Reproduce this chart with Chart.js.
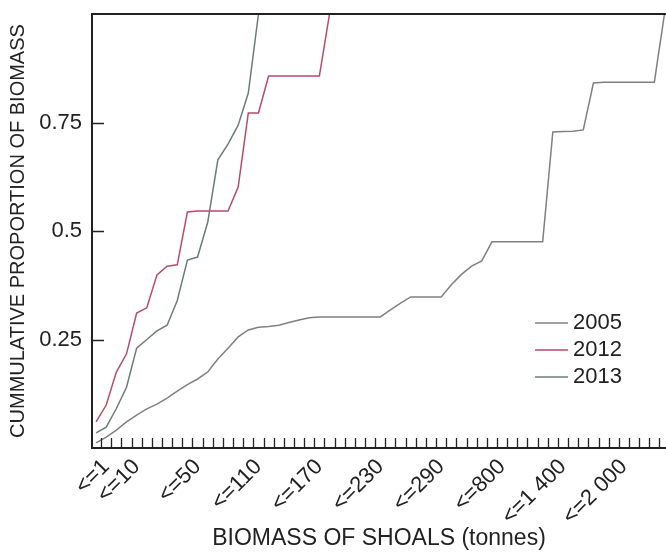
<!DOCTYPE html>
<html>
<head>
<meta charset="utf-8">
<title>Cumulative proportion of biomass by shoal size</title>
<script src="https://cdn.jsdelivr.net/npm/chart.js@4.4.1/dist/chart.umd.min.js"></script>
<style>
  html, body { margin: 0; padding: 0; background: #fff; }
</style>
</head>
<body>
<canvas id="cumChart" width="666" height="552"></canvas>
<script>
// ---------- Data ----------
// one entry per shoal-size class; only some classes carry a printed label
const sizeClassLabels = [
  '', '<=1', '', '', '<=10', '', '', '', '', '',
  '<=50', '', '', '', '', '', '<=110', '', '', '',
  '', '', '<=170', '', '', '', '', '', '<=230', '',
  '', '', '', '', '<=290', '', '', '', '', '',
  '<=800', '', '', '', '', '', '<=1 400', '', '', '',
  '', '', '<=2 000', '', '', '', '',
];

const yTickValues = [0.25, 0.5, 0.75];
const yTickText   = ['0.25', '0.5', '0.75'];

const cum2005 = [
  0.012, 0.025, 0.041, 0.060, 0.076, 0.090, 0.101, 0.115, 0.131, 0.146,
  0.159, 0.175, 0.205, 0.230, 0.256, 0.272, 0.278, 0.280, 0.283, 0.289,
  0.295, 0.300, 0.302, 0.302, 0.302, 0.302, 0.302, 0.302, 0.302, 0.318,
  0.334, 0.348, 0.348, 0.348, 0.348, 0.376, 0.400, 0.419, 0.431, 0.475,
  0.475, 0.475, 0.475, 0.475, 0.475, 0.728, 0.729, 0.730, 0.733, 0.841,
  0.843, 0.843, 0.843, 0.843, 0.843, 0.843, 1.000,
];

const cum2012 = [
  0.060, 0.099, 0.175, 0.217, 0.311, 0.323, 0.399, 0.419, 0.422, 0.544,
  0.546, 0.546, 0.546, 0.546, 0.601, 0.772, 0.772, 0.857, 0.857, 0.857,
  0.857, 0.857, 0.857, 1.000, 1.000, 1.000, 1.000, 1.000, 1.000, 1.000,
  1.000, 1.000, 1.000, 1.000, 1.000, 1.000, 1.000, 1.000, 1.000, 1.000,
  1.000, 1.000, 1.000, 1.000, 1.000, 1.000, 1.000, 1.000, 1.000, 1.000,
  1.000, 1.000, 1.000, 1.000, 1.000, 1.000, 1.000,
];

const cum2013 = [
  0.035, 0.048, 0.091, 0.140, 0.230, 0.250, 0.270, 0.283, 0.340, 0.433,
  0.440, 0.520, 0.664, 0.700, 0.744, 0.818, 1.000, 1.000, 1.000, 1.000,
  1.000, 1.000, 1.000, 1.000, 1.000, 1.000, 1.000, 1.000, 1.000, 1.000,
  1.000, 1.000, 1.000, 1.000, 1.000, 1.000, 1.000, 1.000, 1.000, 1.000,
  1.000, 1.000, 1.000, 1.000, 1.000, 1.000, 1.000, 1.000, 1.000, 1.000,
  1.000, 1.000, 1.000, 1.000, 1.000, 1.000, 1.000,
];

const FONT = '"Liberation Sans", Arial, sans-serif';
const INK = '#222';

// class index -> x, cumulative proportion -> y
const toPoints = (vals) => vals.map((v, i) => ({ x: i, y: v }));

// ---------- Plugin: inward tick marks + top edge of the box ----------
const frameTicks = {
  id: 'frameTicks',
  afterDatasetsDraw(chart) {
    const { ctx, chartArea: a, scales: { x, y } } = chart;
    ctx.save();
    ctx.strokeStyle = INK;
    ctx.lineWidth = 1.3;
    ctx.beginPath();
    // x ticks fall between neighbouring classes
    for (let i = 0; i < sizeClassLabels.length - 1; i++) {
      const px = Math.round(x.getPixelForValue(i + 0.5)) + 0.5;
      ctx.moveTo(px, a.bottom);
      ctx.lineTo(px, a.bottom - 10);
    }
    yTickValues.forEach((v) => {
      const py = Math.round(y.getPixelForValue(v)) + 0.5;
      ctx.moveTo(a.left, py);
      ctx.lineTo(a.left + 12, py);
    });
    ctx.stroke();

    ctx.lineWidth = 2;
    ctx.beginPath();
    ctx.moveTo(a.left, a.top);
    ctx.lineTo(a.right, a.top);
    ctx.stroke();
    ctx.restore();
  },
};

// ---------- Plugin: legend in the lower right of the plot ----------
const cornerLegend = {
  id: 'cornerLegend',
  afterDraw(chart) {
    const { ctx, chartArea: a } = chart;
    const items = [0, 1, 2].map((i) => chart.data.datasets.find((d) => d.legendRow === i));
    ctx.save();
    ctx.font = '22px ' + FONT;
    ctx.textBaseline = 'middle';
    ctx.fillStyle = INK;
    items.forEach((ds, i) => {
      const yy = a.top + 309 + i * 27;
      ctx.strokeStyle = ds.borderColor;
      ctx.lineWidth = ds.borderWidth;
      ctx.beginPath();
      ctx.moveTo(a.right - 131, yy);
      ctx.lineTo(a.right - 98, yy);
      ctx.stroke();
      ctx.fillText(ds.label, a.right - 93, yy);
    });
    ctx.restore();
  },
};

// ---------- Chart ----------
const canvas = document.getElementById('cumChart');

new Chart(canvas, {
  type: 'line',
  data: {
    datasets: [
      {
        label: '2012',
        legendRow: 1,
        data: toPoints(cum2012),
        borderColor: '#b84c66',
        borderWidth: 1.5,
        pointRadius: 0,
        tension: 0,
        order: 0,
      },
      {
        label: '2013',
        legendRow: 2,
        data: toPoints(cum2013),
        borderColor: '#6b7d79',
        borderWidth: 1.5,
        pointRadius: 0,
        tension: 0,
        order: 1,
      },
      {
        label: '2005',
        legendRow: 0,
        data: toPoints(cum2005),
        borderColor: '#808080',
        borderWidth: 1.5,
        pointRadius: 0,
        tension: 0,
        order: 2,
      },
    ],
  },
  options: {
    responsive: false,
    animation: false,
    layout: { padding: { top: 14, left: 0, right: 0, bottom: 0 } },
    plugins: {
      legend: { display: false },
      tooltip: { enabled: false },
    },
    scales: {
      x: {
        type: 'linear',
        min: -0.4,
        max: 56.15,
        afterBuildTicks: (s) => {
          s.ticks = sizeClassLabels
            .map((l, i) => (l ? { value: i } : null))
            .filter(Boolean);
        },
        afterFit: (s) => {
          s.height = 104;
          s.paddingLeft = 0;
          s.paddingRight = 0;
        },
        grid: { display: false, drawTicks: false },
        border: { display: true, color: INK, width: 2 },
        ticks: {
          autoSkip: false,
          minRotation: 45,
          maxRotation: 45,
          padding: 6,
          color: INK,
          font: { family: FONT, size: 22 },
          callback: (v) => sizeClassLabels[v] || '',
        },
        title: {
          display: true,
          text: 'BIOMASS OF SHOALS (tonnes)',
          color: INK,
          font: { family: FONT, size: 23 },
          padding: { top: 0, bottom: 0 },
        },
      },
      y: {
        min: 0,
        max: 1,
        afterBuildTicks: (s) => {
          s.ticks = yTickValues.map((v) => ({ value: v }));
        },
        afterFit: (s) => {
          s.width = 92;
          s.paddingTop = 0;
          s.paddingBottom = 0;
        },
        grid: { display: false, drawTicks: false },
        border: { display: true, color: INK, width: 2 },
        ticks: {
          padding: 10,
          color: INK,
          font: { family: FONT, size: 22 },
          callback: (v) => yTickText[yTickValues.indexOf(v)],
        },
        title: {
          display: true,
          text: 'CUMMULATIVE PROPORTION OF BIOMASS',
          color: INK,
          font: { family: FONT, size: 20 },
          padding: { top: 6, bottom: 0 },
        },
      },
    },
  },
  plugins: [frameTicks, cornerLegend],
});
</script>
</body>
</html>
